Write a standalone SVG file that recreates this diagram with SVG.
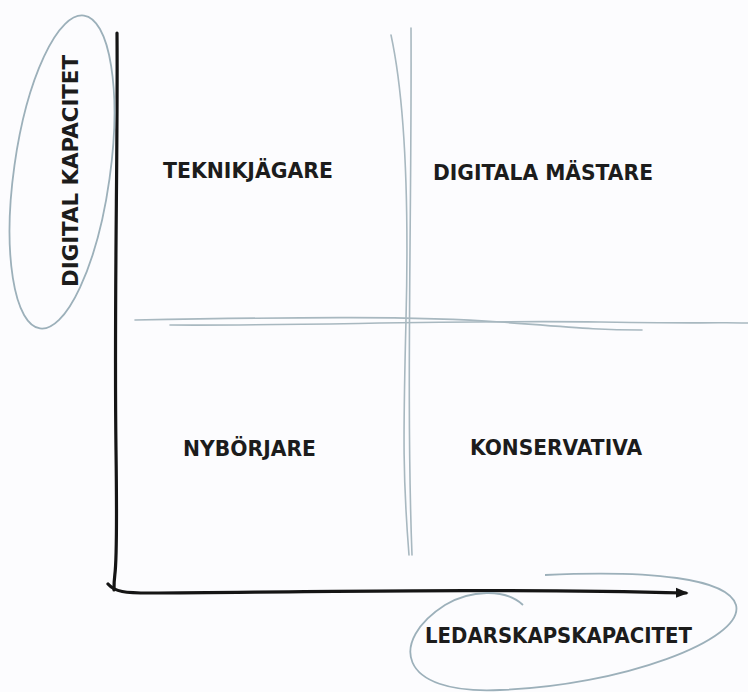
<svg xmlns="http://www.w3.org/2000/svg" width="748" height="692" viewBox="0 0 748 692">
<defs>
<style>
.lbl{font-family:"DejaVu Sans","Liberation Sans",sans-serif;font-weight:bold;font-size:21px;fill:#1c1c1c;}
.grid{fill:none;stroke:#a8b8c0;stroke-width:1.6;stroke-linecap:round;}
.axis{fill:none;stroke:#151515;stroke-width:3.2;stroke-linecap:round;}
.oval{fill:none;stroke:#9cb0ba;stroke-width:1.8;}
</style>
<marker id="arr" viewBox="0 0 10 10" refX="8" refY="5" markerWidth="4" markerHeight="4" orient="auto">
<path d="M0 1 L10 5 L0 9 Z" fill="#151515"/>
</marker>
</defs>
<rect width="748" height="692" fill="#fcfcfe"/>
<g id="connectors">
<path class="grid" d="M411 28 C412 200 406 400 412 555"/>
<path class="grid" d="M391 35 C405 100 409 200 406 320 S403 480 409 555"/>
<path class="grid" d="M135 320 C300 317 420 316 500 322 S600 330 642 330"/>
<path class="grid" d="M170 325 C300 326 450 320 600 322 S700 322 748 323"/>
<path class="axis" d="M117 33 C118 150 114 300 116 450 S114 560 114 590"/>
<path class="axis" d="M108 584 C115 592 125 593 150 593 C300 592 500 588 686 593" marker-end="url(#arr)"/>
</g>
<g id="axis-y-label">
<ellipse class="oval" cx="62" cy="172" rx="48" ry="158" transform="rotate(8 62 172)"/>
<text class="lbl" transform="translate(78 287) rotate(-90)" textLength="232" lengthAdjust="spacingAndGlyphs">DIGITAL KAPACITET</text>
</g>
<g id="axis-x-label">
<path class="oval" d="M523 605 C505 588 470 590 445 605 C390 640 395 695 500 690 C620 686 745 640 736 605 C728 578 650 570 545 575"/>
<text class="lbl" x="425" y="643" textLength="267" lengthAdjust="spacingAndGlyphs">LEDARSKAPSKAPACITET</text>
</g>
<g id="q-teknikjagare">
<text class="lbl" x="163" y="178" textLength="170" lengthAdjust="spacingAndGlyphs">TEKNIKJÄGARE</text>
</g>
<g id="q-digitala-mastare">
<text class="lbl" x="433" y="180" textLength="220" lengthAdjust="spacingAndGlyphs">DIGITALA MÄSTARE</text>
</g>
<g id="q-nyborjare">
<text class="lbl" x="183" y="456" textLength="133" lengthAdjust="spacingAndGlyphs">NYBÖRJARE</text>
</g>
<g id="q-konservativa">
<text class="lbl" x="470" y="455" textLength="172" lengthAdjust="spacingAndGlyphs">KONSERVATIVA</text>
</g>
</svg>
